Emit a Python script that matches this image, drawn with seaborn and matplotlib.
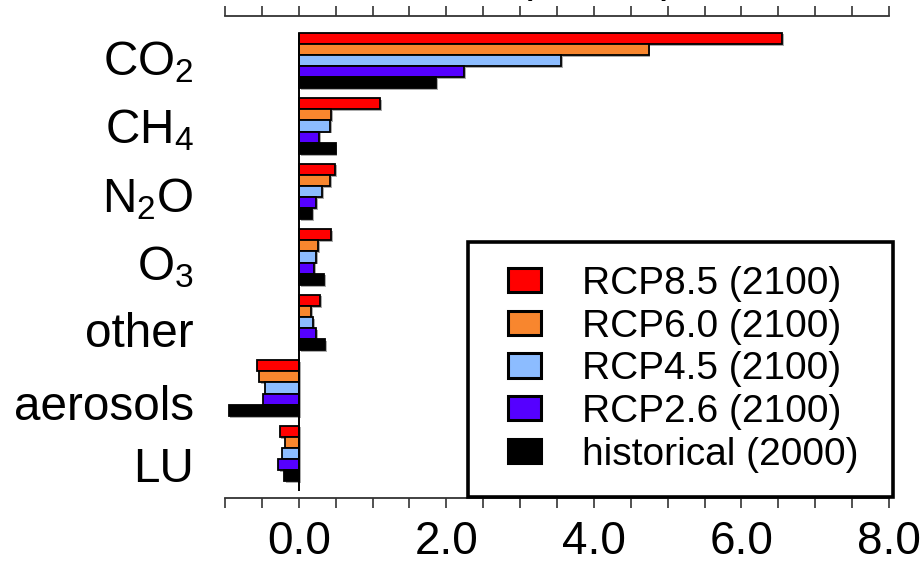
import matplotlib
matplotlib.use("Agg")
import matplotlib.pyplot as plt
import matplotlib.patches as mpatches
import matplotlib.patheffects as pe
from matplotlib.ticker import MultipleLocator, FuncFormatter
from matplotlib.legend_handler import HandlerPatch
from matplotlib.transforms import blended_transform_factory
import pandas as pd
import seaborn as sns

# Forcing agents and scenarios
agents = ["CO$_2$", "CH$_4$", "N$_2$O", "O$_3$", "other", "aerosols", "LU"]
scenarios = ["RCP8.5 (2100)", "RCP6.0 (2100)", "RCP4.5 (2100)",
             "RCP2.6 (2100)", "historical (2000)"]

# Radiative forcing (W m-2) per agent
rcp85 = [6.55, 1.10, 0.49, 0.44, 0.29, -0.56, -0.26]
rcp60 = [4.74, 0.44, 0.42, 0.26, 0.17, -0.54, -0.19]
rcp45 = [3.55, 0.42, 0.32, 0.24, 0.19, -0.46, -0.23]
rcp26 = [2.24, 0.28, 0.23, 0.21, 0.23, -0.49, -0.28]
hist2000 = [1.86, 0.50, 0.18, 0.34, 0.36, -0.95, -0.20]

colors = ["#ff0000", "#f8862e", "#8cbcff", "#5500ff", "#000000"]
labeled_ticks = [0.0, 2.0, 4.0, 6.0, 8.0]

series = [rcp85, rcp60, rcp45, rcp26, hist2000]
df = pd.DataFrame(
    [(a, s, v) for s, vals in zip(scenarios, series) for a, v in zip(agents, vals)],
    columns=["agent", "scenario", "forcing"],
)

sns.set_style("white")
plt.rcParams["font.family"] = ["Liberation Sans", "DejaVu Sans"]
plt.rcParams["text.color"] = "black"
plt.rcParams["xtick.labelcolor"] = "black"
plt.rcParams["mathtext.fontset"] = "custom"
plt.rcParams["mathtext.rm"] = "Liberation Sans"
plt.rcParams["mathtext.it"] = "Liberation Sans:italic"
plt.rcParams["mathtext.bf"] = "Liberation Sans:bold"
plt.rcParams["mathtext.default"] = "regular"

fig = plt.figure(figsize=(9.21, 5.67), dpi=100)
ax = fig.add_axes([0.2443, 0.1212, 0.7210, 0.8511])

sns.barplot(data=df, x="forcing", y="agent", hue="scenario",
            order=agents, hue_order=scenarios, palette=colors,
            orient="h", width=0.85, saturation=1, errorbar=None,
            edgecolor="black", linewidth=1.3, ax=ax)

for p in ax.patches:
    p.set_path_effects([pe.SimplePatchShadow(offset=(1.3, -1.3),
                                             shadow_rgbFace="0.45", alpha=0.6),
                        pe.Normal()])

if ax.get_legend() is not None:
    ax.get_legend().remove()

ax.set_xlim(-1, 8)
ax.set_ylim(6.684, -0.684)
ax.set_xlabel("")
ax.set_ylabel("")

# zero reference line
ax.vlines(0, -0.42, 6.57, colors="black", linewidth=1.4, zorder=4)

# x axis: ticks every 0.5, labels on even values, ticks on top and bottom
ax.xaxis.set_major_locator(MultipleLocator(0.5))
ax.xaxis.set_major_formatter(FuncFormatter(
    lambda v, pos: f"{v:.1f}" if any(abs(v - t) < 1e-6 for t in labeled_ticks) else ""))
ax.tick_params(axis="x", which="major", direction="out", length=7.5, width=1.2,
               color="#333333", top=True, bottom=True, labeltop=False,
               labelsize=33, labelcolor="black", pad=8)
ax.tick_params(axis="y", left=False, labelleft=False)

for side in ("left", "right"):
    ax.spines[side].set_visible(False)
for side in ("top", "bottom"):
    ax.spines[side].set_visible(True)
    ax.spines[side].set_color("#333333")
    ax.spines[side].set_linewidth(1.3)

# category labels, right-aligned left of the plot
label_offsets = [0.22, 0.26, 0.31, 0.35, 0.37, 0.49, 0.43]
trans = blended_transform_factory(ax.transAxes, ax.transData)
for i, (name, off) in enumerate(zip(agents, label_offsets)):
    ax.text(-0.047, i + off, name, transform=trans, ha="right",
            va="baseline", fontsize=34.3, color="black")

# legend
handles = [mpatches.Patch(facecolor=c, edgecolor="black", linewidth=2.2)
           for c in colors]
leg = ax.legend(handles, scenarios, loc="lower left",
                bbox_to_anchor=(468 / 921, 1 - 496.7 / 567, 424.7 / 921, 0),
                bbox_transform=fig.transFigure, mode="expand",
                borderaxespad=0, fontsize=28, handlelength=1.25,
                handleheight=0.58, handletextpad=1.05, borderpad=0.62,
                labelspacing=0.172, fancybox=False, framealpha=1,
                edgecolor="black",
                handler_map={mpatches.Patch: HandlerPatch(xpad=0.40)})
leg.get_frame().set_linewidth(2.6)
leg.set_zorder(6)
for t in leg.get_texts():
    t.set_color("black")

# axis title, running off the top edge
fig.text(596 / 921, 1 + 6 / 567, "(W m$^{-2}$)", ha="center", va="baseline",
         fontsize=32, color="black")

fig.savefig("out.png", dpi=100)
